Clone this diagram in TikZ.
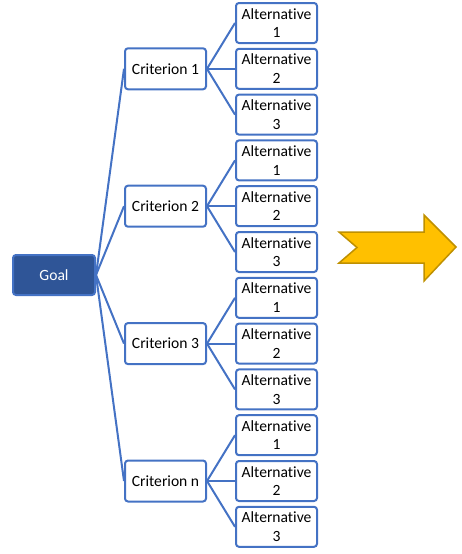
\documentclass[tikz,border=0pt]{standalone}
\usepackage{fontspec}
\setmainfont{Carlito}[Ligatures=NoCommon]
\definecolor{lineblue}{HTML}{4472C4}
\definecolor{goalblue}{HTML}{2F5597}
\definecolor{arrowfill}{HTML}{FFC000}
\definecolor{arrowedge}{HTML}{BF9000}
\begin{document}
\begin{tikzpicture}[x=1pt,y=-1pt,
  box/.style={draw=lineblue,line width=2pt,rounded corners=3pt,fill=white,
    align=center,inner sep=0pt,font=\fontsize{15.6}{18.5}\selectfont},
  altbox/.style={box,minimum width=81pt,minimum height=40pt},
  critbox/.style={box,minimum width=81pt,minimum height=41pt},
  goalbox/.style={box,fill=goalblue,text=white,minimum width=82pt,minimum height=40pt},
  link/.style={draw=lineblue,line width=2pt}]
\useasboundingbox (0,0) rectangle (462,554);
\node[goalbox] (goal) at (54,275) {Goal};
\foreach \c/\lab in {0/1,1/2,2/3,3/n}{
  \pgfmathsetmacro{\cy}{23+45.8*(3*\c+1)}
  \node[critbox] (c\c) at (165.5,\cy) {Criterion \lab};
  \draw[link] (goal.east) -- (c\c.west);
  \foreach \a in {1,2,3}{
    \pgfmathsetmacro{\ay}{23+45.8*(3*\c+\a-1)}
    \node[altbox] (a\c\a) at (276.5,\ay) {Alternative\\\a};
    \draw[link] (c\c.east) -- (a\c\a.west);
  }
}
\draw[draw=arrowedge,fill=arrowfill,line width=1.5pt,line join=miter]
  (339,232) -- (424,232) -- (424,215) -- (456,247) -- (424,281) -- (424,263)
  -- (339,263) -- (357,247.5) -- cycle;
\end{tikzpicture}
\end{document}
